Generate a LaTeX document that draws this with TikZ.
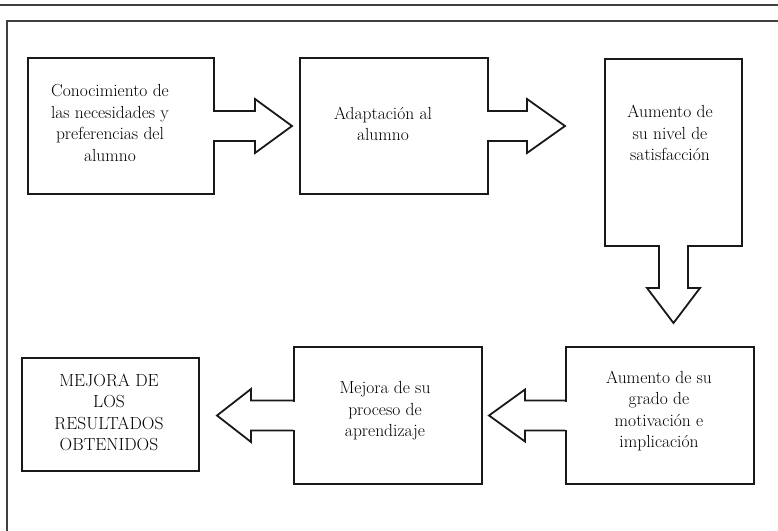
\documentclass[tikz,border=0pt]{standalone}
\usetikzlibrary{calc}
\begin{document}
\begin{tikzpicture}[x=1pt,y=-1pt,
  boxshape/.style={draw=black!90,line width=2pt,inner sep=0pt,anchor=north west},
  txt/.style={align=center,inner sep=0pt,font=\fontsize{17.5}{21.5}\selectfont,text=black},
  blockarrow/.style={draw=black!90,line width=1.8pt,line join=miter},
  frameline/.style={draw=black!75,line width=1.3pt}]
\useasboundingbox (0,0) rectangle (778,530);
% frame
\draw[frameline] (0,5) -- (778,5);
\draw[frameline] (7,535) -- (7,21) -- (785,21);
% boxes
\node[boxshape,minimum width=186pt,minimum height=136pt] (b1) at (27,57) {};
\node[boxshape,minimum width=188pt,minimum height=136pt] (b2) at (299,57) {};
\node[boxshape,minimum width=137pt,minimum height=187pt] (b3) at (604,58) {};
\node[boxshape,minimum width=188pt,minimum height=137pt] (b4) at (565,346) {};
\node[boxshape,minimum width=188pt,minimum height=137pt] (b5) at (293,346) {};
\node[boxshape,minimum width=177pt,minimum height=113pt] (b6) at (21,357) {};
% texts
\node[txt] (t1) at (110,123) {Conocimiento de\\las necesidades y\\preferencias del\\alumno};
\node[txt] (t2) at (383,124) {Adaptación al\\alumno};
\node[txt] (t3) at (670,133) {Aumento de\\su nivel de\\satisfacción};
\node[txt] (t4) at (659,411) {Aumento de su\\grado de\\motivación e\\implicación};
\node[txt] (t5) at (385,411) {Mejora de su\\proceso de\\aprendizaje};
\node[txt] (t6) at (109,412.5) {MEJORA DE\\LOS\\RESULTADOS\\OBTENIDOS};
% arrow 1: b1 -> b2
\fill[white] ($(b1.east)+(-2,-14)$) rectangle ($(b1.east)+(3,14)$);
\draw[blockarrow] ($(b1.east)+(0,-15)$) -- ($(b1.east)+(40,-15)$) -- ($(b1.east)+(40,-27)$)
  -- ($(b2.west)+(-7,0)$) -- ($(b1.east)+(40,27)$) -- ($(b1.east)+(40,15)$) -- ($(b1.east)+(0,15)$);
% arrow 2: b2 -> b3
\fill[white] ($(b2.east)+(-2,-14)$) rectangle ($(b2.east)+(3,14)$);
\draw[blockarrow] ($(b2.east)+(0,-15)$) -- ($(b2.east)+(38,-15)$) -- ($(b2.east)+(38,-27)$)
  -- ($(b2.east -| b3.west)+(-39,0)$) -- ($(b2.east)+(38,27)$) -- ($(b2.east)+(38,15)$) -- ($(b2.east)+(0,15)$);
% arrow 3: b3 -> b4 (down)
\fill[white] ($(b3.south)+(-13.5,-2)$) rectangle ($(b3.south)+(13.5,3)$);
\draw[blockarrow] ($(b3.south)+(-14.5,0)$) -- ($(b3.south)+(-14.5,41)$) -- ($(b3.south)+(-26.5,41)$)
  -- ($(b4.north -| b3.south)+(0,-23)$) -- ($(b3.south)+(26.5,41)$) -- ($(b3.south)+(14.5,41)$) -- ($(b3.south)+(14.5,0)$);
% arrow 4: b4 -> b5 (left)
\fill[white] ($(b4.west)+(2,-14)$) rectangle ($(b4.west)+(-3,14)$);
\draw[blockarrow] ($(b4.west)+(0,-15)$) -- ($(b4.west)+(-40,-15)$) -- ($(b4.west)+(-40,-26)$)
  -- ($(b5.east)+(6,0)$) -- ($(b4.west)+(-40,26)$) -- ($(b4.west)+(-40,15)$) -- ($(b4.west)+(0,15)$);
% arrow 5: b5 -> b6 (left)
\fill[white] ($(b5.west)+(2,-14)$) rectangle ($(b5.west)+(-3,14)$);
\draw[blockarrow] ($(b5.west)+(0,-15)$) -- ($(b5.west)+(-42,-15)$) -- ($(b5.west)+(-42,-26.5)$)
  -- ($(b6.east |- b5.west)+(17,0)$) -- ($(b5.west)+(-42,26.5)$) -- ($(b5.west)+(-42,15)$) -- ($(b5.west)+(0,15)$);
\end{tikzpicture}
\end{document}
